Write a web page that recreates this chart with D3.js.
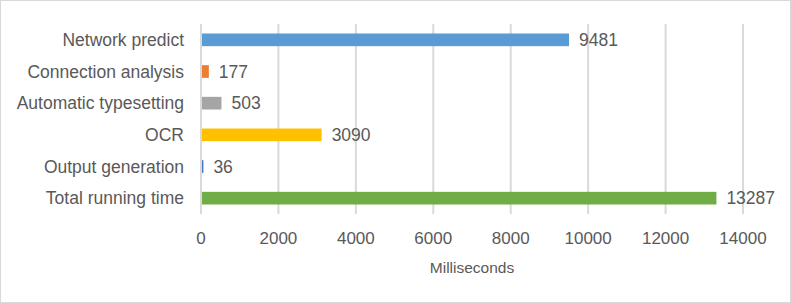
<!DOCTYPE html>
<html><head><meta charset="utf-8">
<script src="https://cdn.jsdelivr.net/npm/d3@7"></script>
<style>body{margin:0;background:#fff}svg{display:block}text{font-family:"Liberation Sans",Arial,sans-serif;fill:#595959}</style>
</head><body><svg id="c" width="791" height="303"></svg>
<script>
const categories = ["Network predict","Connection analysis","Automatic typesetting","OCR","Output generation","Total running time"];
const values = [9481,177,503,3090,36,13287];
const colors = ["#5B9BD5","#ED7D31","#A5A5A5","#FFC000","#4472C4","#70AD47"];
const xTicks = [0,2000,4000,6000,8000,10000,12000,14000];
const xTitle = "Milliseconds";

const svg = d3.select("#c");
svg.append("rect").attr("x",0.5).attr("y",0.5).attr("width",790).attr("height",302)
  .attr("fill","#fff").attr("stroke","#D9D9D9");

const x = d3.scaleLinear().domain([0,14000]).range([201,743]);
const y = d3.scaleBand().domain(categories).range([24,214]).paddingInner(0.6).paddingOuter(0.3);

svg.append("g").selectAll("line").data(xTicks).join("line")
  .attr("x1",d=>x(d)).attr("x2",d=>x(d)).attr("y1",24).attr("y2",214)
  .attr("stroke","#D9D9D9").attr("stroke-width",2);

svg.append("g").selectAll("rect").data(values).join("rect")
  .attr("x",x(0)+1).attr("y",(d,i)=>y(categories[i]))
  .attr("width",d=>x(d)-x(0)).attr("height",y.bandwidth())
  .attr("fill",(d,i)=>colors[i]);

svg.append("g").selectAll("text").data(values).join("text")
  .attr("x",d=>x(d)+11).attr("y",(d,i)=>y(categories[i])+y.bandwidth()/2)
  .attr("dy","0.36em").attr("font-size",17.5).text(d=>d);

svg.append("g").selectAll("text").data(categories).join("text")
  .attr("x",184).attr("y",d=>y(d)+y.bandwidth()/2).attr("dy","0.36em")
  .attr("text-anchor","end").attr("font-size",17.5).text(d=>d);

svg.append("g").selectAll("text").data(xTicks).join("text")
  .attr("x",d=>x(d)).attr("y",238).attr("dy","0.36em").attr("text-anchor","middle")
  .attr("font-size",17).text(d=>d);

svg.append("text").attr("x",(x(0)+x(14000))/2).attr("y",267).attr("dy","0.36em")
  .attr("text-anchor","middle").attr("font-size",15.5).text(xTitle);
</script></body></html>
